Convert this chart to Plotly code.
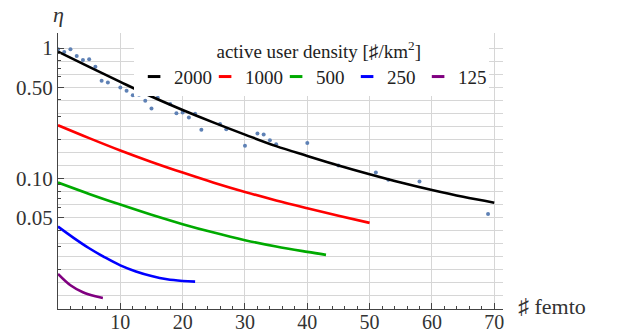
import plotly.graph_objects as go

# ---------------- data ----------------
sim_x = [0, 1, 2, 3, 4, 5, 6, 7, 8, 10, 11, 12, 13, 14, 15, 16, 18, 19, 20, 21, 22, 23,
         26, 27, 30, 32, 33, 34, 35, 40, 45, 51, 53, 58, 69]
sim_y = [0.98, 0.93, 0.977, 0.867, 0.809, 0.819, 0.719, 0.561, 0.545, 0.499, 0.470, 0.435,
         0.438, 0.394, 0.344, 0.415, 0.373, 0.316, 0.320, 0.294, 0.313, 0.236, 0.262, 0.238,
         0.178, 0.221, 0.217, 0.196, 0.183, 0.187, 0.126, 0.111, 0.098, 0.095, 0.0534]

d2000_x = [0, 5, 10, 15, 20, 25, 30, 35, 40, 45, 50, 55, 60, 65, 70]
d2000_y = [0.938, 0.716, 0.550, 0.425, 0.335, 0.268, 0.217, 0.177, 0.149, 0.126, 0.108,
           0.0933, 0.0817, 0.0724, 0.0653]

d1000_x = [0, 5, 10, 15, 20, 25, 30, 35, 40, 45, 50]
d1000_y = [0.256, 0.204, 0.164, 0.134, 0.111, 0.0929, 0.0789, 0.0679, 0.0592, 0.0519, 0.0457]

d500_x = [0, 5, 10, 15, 20, 25, 30, 35, 40, 43]
d500_y = [0.0931, 0.0762, 0.0631, 0.0527, 0.0447, 0.0385, 0.0337, 0.0301, 0.0274, 0.0260]

d250_x = [0, 2.5, 5, 7.5, 10, 12.5, 15, 17.5, 20, 22]
d250_y = [0.0428, 0.0351, 0.0292, 0.0249, 0.0216, 0.0194, 0.0179, 0.0169, 0.0164, 0.0162]

d125_x = [0, 2, 4, 6, 7.2]
d125_y = [0.01858, 0.0152, 0.01343, 0.0125, 0.01216]

density_labels = ["2000", "1000", "500", "250", "125"]
colors = ["#000000", "#ff0000", "#00aa00", "#0000ff", "#800080"]

y_tick_vals = [1, 0.5, 0.1, 0.05]
y_tick_text = ["1", "0.50", "0.10", "0.05"]
y_minor_ticks = [0.9, 0.8, 0.7, 0.6, 0.4, 0.3, 0.2,
                 0.09, 0.08, 0.07, 0.06, 0.04, 0.03, 0.02]
x_tick_vals = [10, 20, 30, 40, 50, 60, 70]
x_minor_ticks = [2, 4, 6, 8, 12, 14, 16, 18, 22, 24, 26, 28, 32, 34, 36, 38,
                 42, 44, 46, 48, 52, 54, 56, 58, 62, 64, 66, 68]
# horizontal grid every 0.1 decade between 0.01 and 1
y_grid = [10 ** (k / 10) for k in range(-20, 1)]

SERIF = "Liberation Serif"
TXT = "#333333"

series = [(d2000_x, d2000_y), (d1000_x, d1000_y), (d500_x, d500_y),
          (d250_x, d250_y), (d125_x, d125_y)]

fig = go.Figure()

fig.add_trace(go.Scatter(x=sim_x, y=sim_y, mode="markers",
                         marker=dict(color="#5e81b5", size=4),
                         showlegend=False, hoverinfo="skip"))

for (xs, ys), c in zip(series, colors):
    fig.add_trace(go.Scatter(x=xs, y=ys, mode="lines",
                             line=dict(color=c, width=2.6, shape="spline", smoothing=1.0),
                             showlegend=False))

for lab, c in zip(density_labels, colors):
    fig.add_trace(go.Scatter(x=[None], y=[None], mode="markers", name=lab,
                             marker=dict(symbol="line-ew", size=9,
                                         line=dict(width=3, color=c))))

fig.add_trace(go.Scatter(x=[None], y=[None], yaxis="y2", showlegend=False, hoverinfo="skip"))

fig.update_layout(
    template="none",
    width=618, height=334,
    margin=dict(l=58, r=115, t=33, b=25, autoexpand=False),
    paper_bgcolor="white", plot_bgcolor="white",
    font=dict(family=SERIF, size=20, color=TXT),
    xaxis=dict(range=[0, 71.4], tickvals=x_tick_vals, ticks="inside", ticklen=6,
               tickcolor="#444", showline=True, linecolor="#444", linewidth=1,
               showgrid=True, gridcolor="#d6d6d6", gridwidth=1, zeroline=False,
               automargin=False, ticklabelstandoff=-5,
               tickfont=dict(family=SERIF, size=20, color=TXT),
               minor=dict(tickvals=x_minor_ticks, ticks="inside", ticklen=3,
                          tickcolor="#444", showgrid=False)),
    yaxis=dict(type="log", range=[-2.0, 0.115], tickvals=y_tick_vals, ticktext=y_tick_text,
               ticks="inside", ticklen=6, tickcolor="#444", showline=True, linecolor="#444",
               linewidth=1, showgrid=False, zeroline=False, automargin=False,
               tickfont=dict(family=SERIF, size=21, color=TXT),
               minor=dict(tickvals=y_grid, ticks="", showgrid=True,
                          gridcolor="#d6d6d6", gridwidth=1)),
    yaxis2=dict(type="log", range=[-2.0, 0.115], overlaying="y", anchor="x", side="left",
                tickvals=y_minor_ticks, ticks="inside", ticklen=3, tickcolor="#444",
                showticklabels=False, showgrid=False, showline=False, zeroline=False,
                automargin=False),
    legend=dict(orientation="h", x=0.171, y=1.0, xanchor="left", yanchor="top",
                bgcolor="white", borderwidth=0,
                font=dict(family=SERIF, size=19, color="#222"),
                title=dict(text="\u00a0\u00a0\u00a0active user density [♯/km<sup>2</sup>]",
                           side="top center",
                           font=dict(family=SERIF, size=19, color="#222")),
                entrywidth=26, entrywidthmode="pixels", itemwidth=30,
                tracegroupgap=0),
    showlegend=True,
    annotations=[
        dict(text="<i>η</i>", xref="paper", yref="paper", x=0, y=1, xanchor="center",
             yanchor="middle", yshift=19, showarrow=False,
             font=dict(family=SERIF, size=22, color=TXT)),
        dict(text="♯ femto", xref="paper", yref="paper", x=1, y=0, xanchor="left",
             yanchor="middle", xshift=13, yshift=3, showarrow=False,
             font=dict(family=SERIF, size=22, color=TXT)),
    ],
)

fig.write_html("out.html")
